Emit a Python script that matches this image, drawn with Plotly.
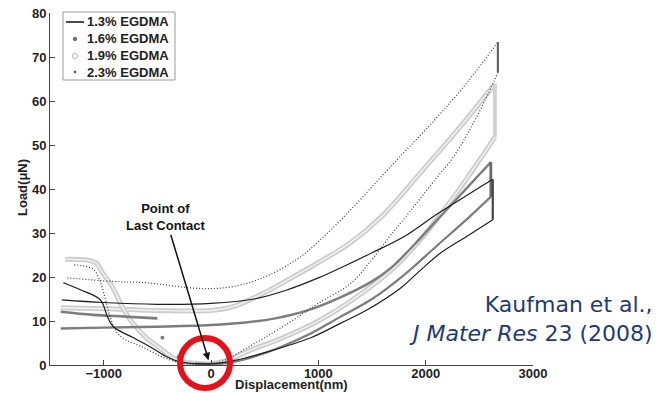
import plotly.graph_objects as go

# ---- load / displacement curves (displacement in nm, load in uN) ----
LABELS = ["1.3% EGDMA", "1.6% EGDMA", "1.9% EGDMA", "2.3% EGDMA"]

# 1.3% EGDMA
APPROACH_13_X = [-1390, -1000, -500, 0, 400, 700, 1000, 1200, 1500, 1800, 2100, 2400, 2625]
APPROACH_13_Y = [14.8, 14.2, 13.8, 14.0, 15.0, 17.0, 19.8, 22.0, 25.5, 29.2, 34.2, 38.8, 42.2]
RETRACT_13_X = [2625, 2400, 2141, 1950, 1767, 1460, 1200, 930, 525, 210, 0, -284, -406,
                -564, -723, -910, -965, -1031, -1217, -1376]
RETRACT_13_Y = [33.0, 29.5, 25.5, 21.5, 17.5, 12.6, 9.4, 6.2, 3.0, 1.0, 0.3, 0.7, 1.8,
                4.1, 6.2, 8.7, 11.0, 14.8, 17.1, 18.7]

# 1.6% EGDMA
APPROACH_16_X = [-1400, -1000, -500, 0, 300, 600, 900, 1200, 1500, 1674, 1900, 2100, 2300, 2450, 2607]
APPROACH_16_Y = [8.3, 8.5, 8.7, 9.1, 9.6, 10.6, 12.4, 15.3, 19.0, 22.0, 27.5, 32.8, 38.0, 42.0, 46.1]
RETRACT_16_X = [2607, 2400, 2100, 1800, 1500, 1208, 900, 600, 300, 100, -150]
RETRACT_16_Y = [38.2, 33.5, 27.0, 20.5, 15.0, 11.0, 6.8, 3.6, 1.2, 0.3, 0.3]
PULLOFF_16_X = [-302, -453]
PULLOFF_16_Y = [1.8, 6.2]
DETACHED_16_X = [-500, -800, -1100, -1400]
DETACHED_16_Y = [10.6, 11.0, 11.4, 12.1]

# 1.9% EGDMA
APPROACH_19_X = [-1400, -1000, -500, 0, 200, 462, 800, 1000, 1300, 1600, 1955, 2300, 2645]
APPROACH_19_Y = [13.0, 12.8, 12.4, 12.4, 13.2, 16.0, 20.5, 23.3, 27.8, 34.0, 43.8, 53.5, 63.9]
RETRACT_19_X = [2645, 2500, 2300, 2020, 1700, 1300, 1000, 835, 600, 370, 155, 0, -150, -314,
                -490, -611, -732, -826, -919, -1012, -1077, -1357]
RETRACT_19_Y = [51.8, 46.5, 39.5, 30.5, 22.0, 14.5, 10.0, 8.0, 5.5, 3.4, 1.1, 0.3, 0.4, 1.1,
                4.1, 6.4, 9.6, 13.2, 17.8, 21.0, 23.3, 24.0]

# 2.3% EGDMA
APPROACH_23_X = [-1339, -919, -611, -100, 200, 500, 800, 1022, 1330, 1650, 2077, 2393, 2673]
APPROACH_23_Y = [19.8, 19.0, 18.7, 17.4, 17.8, 20.0, 24.0, 28.5, 36.0, 44.5, 55.5, 64.4, 73.4]
RETRACT_23_X = [2673, 2550, 2400, 2250, 2100, 1890, 1674, 1500, 1300, 1000, 770, 500, 300, 150,
                0, -150, -300, -450, -650, -800, -880, -940, -990, -1040, -1100, -1292]
RETRACT_23_Y = [66.5, 60.0, 53.0, 47.0, 42.5, 36.0, 29.5, 24.0, 18.5, 14.0, 10.3, 6.2, 3.4, 1.3,
                0.2, 0.1, 0.6, 1.8, 4.2, 5.8, 7.5, 11.0, 15.5, 19.5, 21.8, 22.8]

X_TICKS = [-1000, 0, 1000, 2000, 3000]
Y_TICKS = [0, 10, 20, 30, 40, 50, 60, 70, 80]

FONT = "Liberation Sans"
TEXT = "#222222"
BLACK = "#1e1e1e"
DARK_GRAY = "#7d7d7d"
LIGHT_GRAY = "#cdcdcd"

# plot area in pixels, used to place paper-referenced decorations
W, H = 667, 393
ML, MR, MT, MB = 50, 134, 13, 28
PW, PH = W - ML - MR, H - MT - MB


def px(xp):
    return (xp - ML) / PW


def py(yp):
    return (H - MB - yp) / PH


fig = go.Figure()


def curve(x, y, color, width, dash="solid", shape="spline"):
    fig.add_trace(go.Scatter(
        x=x, y=y, mode="lines", showlegend=False, hoverinfo="skip",
        line=dict(color=color, width=width, dash=dash, shape=shape, smoothing=1.0),
    ))


def hold(ax, ay, rx, ry, color, width):
    curve([ax[-1], rx[0]], [ay[-1], ry[0]], color, width, shape="linear")


# 1.9%: chain of open circles -> light band with a pale core
for xs, ys in [(APPROACH_19_X, APPROACH_19_Y), (RETRACT_19_X, RETRACT_19_Y)]:
    curve(xs, ys, LIGHT_GRAY, 5)
    curve(xs, ys, "#f3f3f3", 1.4)
hold(APPROACH_19_X, APPROACH_19_Y, RETRACT_19_X, RETRACT_19_Y, "#d2d2d2", 4)

# 1.6%: dense dark-gray dots
curve(APPROACH_16_X, APPROACH_16_Y, DARK_GRAY, 2.4)
curve(RETRACT_16_X, RETRACT_16_Y, DARK_GRAY, 2.2)
curve(DETACHED_16_X, DETACHED_16_Y, DARK_GRAY, 2.6)
hold(APPROACH_16_X, APPROACH_16_Y, RETRACT_16_X, RETRACT_16_Y, "#6a6a6a", 2.8)
fig.add_trace(go.Scatter(
    x=PULLOFF_16_X, y=PULLOFF_16_Y, mode="markers", showlegend=False, hoverinfo="skip",
    marker=dict(color=DARK_GRAY, size=4),
))

# 2.3%: fine dotted black
curve(APPROACH_23_X, APPROACH_23_Y, "#3a3a3a", 1.2, dash="1px,2px")
curve(RETRACT_23_X, RETRACT_23_Y, "#3a3a3a", 1.2, dash="1px,2px")
hold(APPROACH_23_X, APPROACH_23_Y, RETRACT_23_X, RETRACT_23_Y, "#666666", 2.2)

# 1.3%: solid black
curve(APPROACH_13_X, APPROACH_13_Y, BLACK, 1.2)
curve(RETRACT_13_X, RETRACT_13_Y, BLACK, 1.2)
hold(APPROACH_13_X, APPROACH_13_Y, RETRACT_13_X, RETRACT_13_Y, "#444444", 2.2)

tick_font = dict(family=FONT, size=13, color=TEXT, weight="bold")

fig.update_layout(
    width=W, height=H, autosize=False,
    margin=dict(l=ML, r=MR, t=MT, b=MB, pad=0),
    paper_bgcolor="white", plot_bgcolor="white",
    font=dict(family=FONT, color=TEXT),
    showlegend=False,
    xaxis=dict(
        range=[-1500, 3000], tickvals=X_TICKS, ticks="inside", ticklen=5,
        tickcolor="#444444", showline=True, linecolor="#444444", linewidth=1,
        showgrid=False, zeroline=False, tickfont=tick_font, automargin=False,
        ticklabelstandoff=-4,
    ),
    yaxis=dict(
        range=[0, 80], tickvals=Y_TICKS, ticks="inside", ticklen=5,
        tickcolor="#444444", showline=True, linecolor="#444444", linewidth=1,
        showgrid=False, zeroline=False, tickfont=tick_font, automargin=False,
    ),
)

# ---- legend box: frame, symbols and labels ----
fig.add_shape(
    type="rect", xref="paper", yref="paper",
    x0=px(63), x1=px(175), y0=py(80), y1=py(12),
    line=dict(color="#9a9a9a", width=1), fillcolor="white", layer="below",
)
fig.add_shape(
    type="line", xref="paper", yref="paper",
    x0=px(66), x1=px(84), y0=py(22), y1=py(22),
    line=dict(color=BLACK, width=1.6),
)
legend_marks = [
    (39, 1.7, "#6f6f6f", "#6f6f6f"),       # 1.6%: filled dark dot
    (56, 2.6, "#b5b5b5", "rgba(0,0,0,0)"),  # 1.9%: open light circle
    (72, 1.0, "#555555", "#555555"),       # 2.3%: tiny dot
]
for yrow, r, edge, fill in legend_marks:
    fig.add_shape(
        type="circle", xref="paper", yref="paper",
        xsizemode="pixel", ysizemode="pixel", xanchor=px(75), yanchor=py(yrow),
        x0=-r, x1=r, y0=-r, y1=r,
        line=dict(color=edge, width=1), fillcolor=fill,
    )
fig.add_annotation(
    text="<br>".join(LABELS), xref="paper", yref="paper",
    x=px(85), y=py(47), xanchor="left", yanchor="middle", align="left",
    showarrow=False, font=dict(family=FONT, size=13, color=TEXT, weight="bold"),
)

# axis titles
fig.add_annotation(
    text="Displacement(nm)", xref="paper", yref="paper", x=0.5, y=py(393),
    xanchor="center", yanchor="bottom", showarrow=False, borderpad=0,
    font=dict(family=FONT, size=13, color=TEXT, weight="bold"),
)
fig.add_annotation(
    text="Load(\u03bcN)", xref="paper", yref="paper", x=px(22), y=py(188),
    xanchor="center", yanchor="middle", showarrow=False, textangle=-90,
    font=dict(family=FONT, size=13, color=TEXT, weight="bold"),
)

# point of last contact
fig.add_annotation(
    text="Point of<br>Last Contact", x=-23, y=1.1, xref="x", yref="y",
    ax=-424, ay=33.6, axref="x", ayref="y",
    showarrow=True, arrowhead=2, arrowsize=1, arrowwidth=1.5, arrowcolor="#111111",
    font=dict(family=FONT, size=13, color="#111111", weight="bold"),
)
fig.add_shape(
    type="circle", xref="paper", yref="paper",
    xsizemode="pixel", ysizemode="pixel", xanchor=px(205), yanchor=py(363),
    x0=-25, x1=25, y0=-25, y1=25,
    line=dict(color="#e3121b", width=6), layer="above",
)

# citation
fig.add_annotation(
    text="Kaufman et al.,<br><i>J Mater Res</i> 23 (2008)",
    xref="paper", yref="paper", x=px(655), y=py(319),
    xanchor="right", yanchor="middle", align="right", showarrow=False,
    font=dict(family="DejaVu Sans", size=22, color="#1f3a73"),
)

fig.write_html("out.html")
